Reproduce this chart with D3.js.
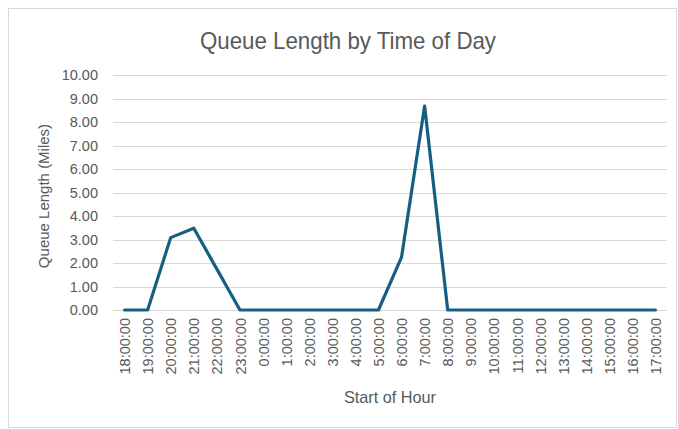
<!DOCTYPE html>
<html>
<head>
<meta charset="utf-8">
<script src="https://cdn.jsdelivr.net/npm/d3@7"></script>
<style>
  body { margin: 0; background: #fff; }
  text { font-family: "Liberation Sans", Arial, sans-serif; fill: #595959; }
</style>
</head>
<body>
<svg id="chart" width="678" height="429"></svg>
<script>
// hours shown on the x axis, starting at 18:00
var hours = ["18:00:00","19:00:00","20:00:00","21:00:00","22:00:00","23:00:00",
  "0:00:00","1:00:00","2:00:00","3:00:00","4:00:00","5:00:00","6:00:00","7:00:00",
  "8:00:00","9:00:00","10:00:00","11:00:00","12:00:00","13:00:00","14:00:00",
  "15:00:00","16:00:00","17:00:00"];

// queue length in miles
var queueMiles = [0, 0, 3.08, 3.48, 1.74, 0, 0, 0, 0, 0, 0, 0, 2.25, 8.68,
  0, 0, 0, 0, 0, 0, 0, 0, 0, 0];

var yTicks = [0, 1, 2, 3, 4, 5, 6, 7, 8, 9, 10];

var svg = d3.select("#chart");

// outer chart border
svg.append("rect")
  .attr("x", 8.5).attr("y", 8.5)
  .attr("width", 668).attr("height", 419)
  .attr("fill", "#fff")
  .attr("stroke", "#d9d9d9");

// plot area (note: "top" is taken by window, so use plotTop)
var plotLeft = 113, plotRight = 667, plotTop = 75, plotBottom = 310;

var x = d3.scalePoint()
  .domain(hours)
  .range([plotLeft, plotRight])
  .padding(0.5);

var y = d3.scaleLinear()
  .domain([0, 10])
  .range([plotBottom, plotTop]);

// gridlines
svg.append("g")
  .selectAll("line")
  .data(yTicks)
  .join("line")
  .attr("x1", plotLeft).attr("x2", plotRight)
  .attr("y1", d => Math.round(y(d)) + 0.5)
  .attr("y2", d => Math.round(y(d)) + 0.5)
  .attr("stroke", "#d9d9d9")
  .attr("stroke-width", 1);

// y axis labels
var yAxis = d3.axisLeft(y).tickValues(yTicks).tickFormat(d3.format(".2f")).tickSize(0).tickPadding(0);
svg.append("g")
  .attr("transform", "translate(" + (plotLeft - 15) + ",0)")
  .call(yAxis)
  .call(g => g.select(".domain").remove())
  .selectAll("text")
  .attr("font-size", 14.5)
  .attr("fill", "#595959")
  .attr("font-family", "Liberation Sans, Arial, sans-serif");

// x axis labels, rotated
var xAxis = d3.axisBottom(x).tickSize(0).tickPadding(0);
svg.append("g")
  .attr("transform", "translate(0," + (plotBottom + 8) + ")")
  .call(xAxis)
  .call(g => g.select(".domain").remove())
  .selectAll("text")
  .attr("font-size", 14.5)
  .attr("fill", "#595959")
  .attr("font-family", "Liberation Sans, Arial, sans-serif")
  .attr("transform", "rotate(-90)")
  .attr("text-anchor", "end")
  .attr("dy", "0.35em")
  .attr("x", 0).attr("y", 0);

// the line
var line = d3.line()
  .x((d, i) => x(hours[i]))
  .y(d => y(d));

svg.append("path")
  .datum(queueMiles)
  .attr("d", line)
  .attr("fill", "none")
  .attr("stroke", "#156082")
  .attr("stroke-width", 3.2)
  .attr("stroke-linejoin", "round")
  .attr("stroke-linecap", "round");

// titles (narrow look via textLength)
svg.append("text")
  .attr("x", 348).attr("y", 49)
  .attr("text-anchor", "middle")
  .attr("font-size", 24)
  .attr("textLength", 296)
  .attr("lengthAdjust", "spacingAndGlyphs")
  .text("Queue Length by Time of Day");

svg.append("text")
  .attr("x", 390).attr("y", 403)
  .attr("text-anchor", "middle")
  .attr("font-size", 17)
  .attr("textLength", 92)
  .attr("lengthAdjust", "spacingAndGlyphs")
  .text("Start of Hour");

svg.append("text")
  .attr("transform", "translate(49,196) rotate(-90)")
  .attr("text-anchor", "middle")
  .attr("font-size", 15)
  .text("Queue Length (Miles)");
</script>
</body>
</html>
